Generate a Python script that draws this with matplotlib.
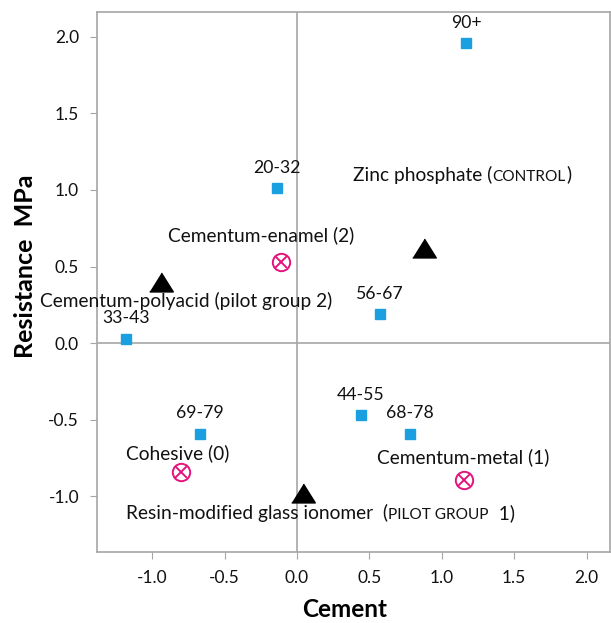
import matplotlib.pyplot as plt

plt.rcParams["font.family"] = ["Lato", "DejaVu Sans"]

# age-group points (blue squares)
age_labels = ["90+", "20-32", "56-67", "33-43", "44-55", "68-78", "69-79"]
age_x = [1.17, -0.14, 0.57, -1.18, 0.44, 0.78, -0.67]
age_y = [1.96, 1.01, 0.19, 0.03, -0.47, -0.59, -0.59]

# cement types (black triangles)
cement_x = [0.88, -0.94, 0.04]
cement_y = [0.62, 0.40, -0.98]

# failure modes (magenta crossed circles)
failure_x = [-0.11, -0.80, 1.15]
failure_y = [0.53, -0.84, -0.89]

# category captions: pieces of (text, small caps?) and anchor position
captions = [
    ([("Zinc phosphate (", False), ("CONTROL", True), (")", False)], 0.39, 1.10),
    ([("Cementum-enamel (2)", False)], -0.89, 0.705),
    ([("Cementum-polyacid (pilot group 2)", False)], -1.775, 0.272),
    ([("Cohesive (0)", False)], -1.18, -0.717),
    ([("Cementum-metal (1)", False)], 0.55, -0.745),
    ([("Resin-modified glass ionomer  (", False), ("PILOT GROUP", True), ("  1)", False)], -1.18, -1.107),
]

BLUE = "#1a9fe0"
MAGENTA = "#e4147c"
GRAY = "#a6a6a6"
FS_AGE = 12.7
FS_CAP = 13.8

fig = plt.figure(figsize=(6.11, 6.23), dpi=100)
ax = fig.add_axes([0.159, 0.1146, 0.839, 0.866])

ax.axhline(0, color=GRAY, lw=1.2, zorder=1)
ax.axvline(0, color=GRAY, lw=1.2, zorder=1)

ax.plot(age_x, age_y, ls="none", marker="s", ms=7, color=BLUE, zorder=3)
for lab, x, y in zip(age_labels, age_x, age_y):
    ax.annotate(lab, (x, y), xytext=(0, 14.5), textcoords="offset points",
                ha="center", va="center", fontsize=FS_AGE, color="#111111")

tri = [(-1, -0.8), (1, -0.8), (0, 0.8)]
ax.plot(cement_x, cement_y, ls="none", marker=tri, ms=17, color="black", zorder=3)

ax.plot(failure_x, failure_y, ls="none", marker="o", ms=12.5, mfc="none",
        mec=MAGENTA, mew=1.4, zorder=3)
ax.plot(failure_x, failure_y, ls="none", marker="x", ms=8, mec=MAGENTA,
        mew=1.4, zorder=3)

for pieces, x, y in captions:
    prev = None
    for txt, small in pieces:
        size = FS_CAP * 0.8 if small else FS_CAP
        if prev is None:
            prev = ax.text(x, y, txt, fontsize=size, ha="left", va="center",
                           color="#111111", clip_on=False)
        else:
            prev = ax.annotate(txt, xy=(1, 0), xycoords=prev, ha="left",
                               va="bottom", fontsize=size, color="#111111")

ax.set_xlim(-1.38, 2.16)
ax.set_ylim(-1.36, 2.16)
ax.set_xticks([-1.0, -0.5, 0.0, 0.5, 1.0, 1.5, 2.0])
ax.set_yticks([-1.0, -0.5, 0.0, 0.5, 1.0, 1.5, 2.0])
ax.set_xticklabels([f"{v:.1f}" for v in ax.get_xticks()])
ax.set_yticklabels([f"{v:.1f}" for v in ax.get_yticks()])
ax.tick_params(direction="out", length=5, color=GRAY, labelsize=12.5,
               labelcolor="#111111", pad=8)
for sp in ax.spines.values():
    sp.set_color(GRAY)
    sp.set_linewidth(1.2)

ax.set_xlabel("Cement", fontsize=17.5, fontweight="bold")
ax.set_ylabel("Resistance  MPa", fontsize=18, fontweight="bold")
ax.xaxis.set_label_coords(0.483, -0.108)
ax.yaxis.set_label_coords(-0.14, 0.529)
ax.xaxis.label.set_va("center")
ax.yaxis.label.set_va("center")

fig.savefig("out.png", dpi=100)
